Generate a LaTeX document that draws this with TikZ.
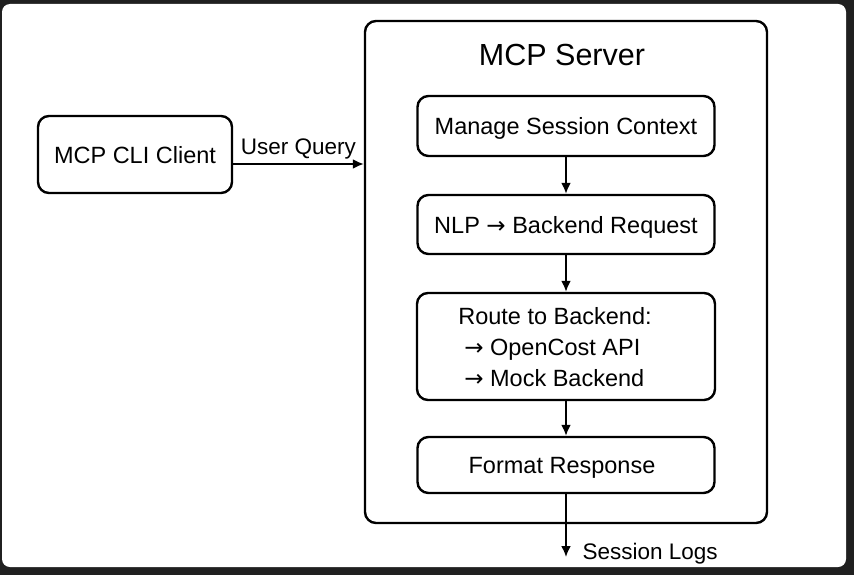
\documentclass[tikz,border=0pt]{standalone}
\usepackage{fontspec}
\setmainfont{Liberation Sans}
\newfontfamily\arrowfont{DejaVu Sans}
\usepackage{tikz}
\usetikzlibrary{arrows.meta}
\usepackage{xcolor}
\definecolor{framegray}{HTML}{202020}
\newcommand{\toarrow}{{\arrowfont\fontsize{23}{31}\selectfont →}}

\tikzset{
  stepbox/.style={draw, line width=2.4pt, rounded corners=11pt, minimum width=297pt, align=center, inner sep=2pt, text depth=0pt, font=\fontsize{23.5}{31}\selectfont},
  flow/.style={-{Latex[length=11pt,width=10pt]}, line width=2pt},
  edgetext/.style={font=\fontsize{22.5}{26}\selectfont},
}

\begin{document}
\begin{tikzpicture}[x=1pt,y=-1pt]
     \fill [framegray](0,0) rectangle(854,575);
     \fill [white, rounded corners=8pt](2,4) rectangle(846,567);
     \node[stepbox, minimum width=194pt, minimum height=77pt] (client) at (135,154.5) {MCP CLI Client};
     \node[stepbox, minimum width=402pt, minimum height=502pt] (server) at (566,272) {};
     \node[font=\fontsize{30.5}{36}\selectfont] (title) at (562,55) {MCP Server};
     \node[stepbox, minimum height=60pt] (context) at (566,126) {Manage Session Context};
     \node[stepbox, minimum height=59pt] (nlp) at (566,224.5) {NLP \toarrow{} Backend Request};
     \node[stepbox, align=left, minimum width=298pt, minimum height=107pt] (route) at (566,346.5) {Route to Backend:\hspace*{22pt}\\\hspace*{6pt}\toarrow{} OpenCost API\\\hspace*{6pt}\toarrow{} Mock Backend};
     \node[stepbox, minimum height=56pt] (format) at (566,465) {Format Response\hspace*{8pt}};
     \coordinate (uq) at (0,164);
     \coordinate (logend) at (0,557);
     \draw[flow] (client.east |- uq) -- node[edgetext, above=0pt]{User Query} (server.west |- uq);
     \draw[flow] (context) -- (nlp);
     \draw[flow] (nlp) -- (route);
     \draw[flow] (route) -- (format);
     \draw[flow] (format.south) -- (format.south |- logend);
     \node[edgetext, anchor=west] (logs) at (579,554) {Session Logs};
\end{tikzpicture}
\end{document}
